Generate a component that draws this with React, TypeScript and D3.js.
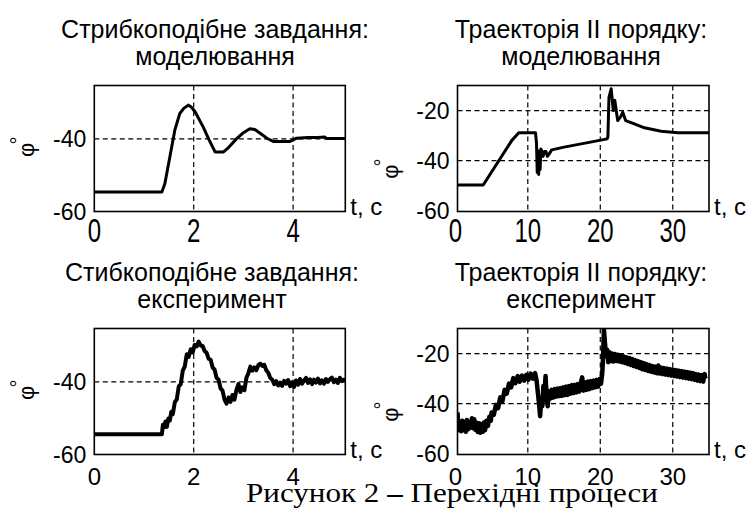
import React from "react";
import * as d3 from "d3";

// t (s), phi (deg)
const stepSim: [number, number][] = [
    [0, -54.6], [1.36, -54.6], [1.42, -52.3], [1.52, -45], [1.62, -37.6], [1.72, -33.0],
    [1.8, -31.6], [1.89, -30.7], [1.95, -31.2], [2.03, -32.6], [2.19, -36.7], [2.3, -40],
    [2.43, -43.6], [2.6, -43.6], [2.7, -42.4], [2.86, -40], [3.0, -38.3], [3.13, -37.2],
    [3.23, -37.4], [3.35, -38.6], [3.48, -39.9], [3.6, -40.7], [3.94, -40.7], [4.07, -39.8],
    [4.3, -39.6], [4.5, -39.6], [4.64, -39.5], [4.67, -39.9], [5.05, -39.9],
];

const trajSim: [number, number][] = [
    [0, -49.7], [3.85, -49.7], [7.8, -31.9], [8.76, -28.9], [11.06, -28.9], [11.2, -33],
    [11.3, -44.7], [11.4, -36], [11.5, -45.5], [11.6, -37], [11.7, -43.5], [11.8, -35.3],
    [11.9, -36], [12.1, -38.3], [12.3, -36.3], [12.5, -36.3], [12.7, -38.3], [12.9, -37.5],
    [13.3, -35.7], [15, -34.6], [17, -33.5], [19, -32.4], [20.95, -31.3], [21.05, -30.5],
    [21.2, -14.7], [21.5, -11.3], [21.8, -20], [22.0, -15.9], [22.4, -24], [22.8, -22.5],
    [23.1, -20.7], [23.5, -24], [24.7, -25.3], [26.1, -26.9], [28.4, -28.3], [30.7, -28.9],
    [35.05, -28.9],
];

const stepExp: [number, number][] = [
    [0, -54.4], [1.36, -54.4], [1.38, -51.8], [1.4, -52.6], [1.43, -50.9], [1.46, -52.4],
    [1.49, -50.1], [1.52, -50.6], [1.55, -48.2], [1.58, -48.9], [1.62, -45.6], [1.66, -44.8],
    [1.7, -41.2], [1.74, -40.6], [1.78, -36.9], [1.82, -35.8], [1.86, -32.4], [1.9, -33.1],
    [1.94, -31.0], [1.98, -31.9], [2.02, -29.8], [2.06, -30.2], [2.1, -28.9], [2.14, -30.0],
    [2.18, -30.1], [2.22, -31.5], [2.26, -32.0], [2.3, -33.6], [2.34, -33.9], [2.38, -36.0],
    [2.42, -36.6], [2.46, -38.9], [2.5, -39.4], [2.54, -41.8], [2.58, -42.4], [2.62, -44.9],
    [2.66, -46.0], [2.7, -44.3], [2.74, -45.5], [2.78, -43.6], [2.82, -44.9], [2.86, -42.2],
    [2.9, -40.6], [2.94, -42.8], [2.98, -41.5], [3.02, -42.3], [3.06, -38.9], [3.1, -37.6],
    [3.14, -35.8], [3.18, -36.9], [3.22, -36.0], [3.26, -36.8], [3.3, -35.4], [3.34, -35.0],
    [3.38, -35.6], [3.42, -35.3], [3.46, -36.8], [3.5, -37.5], [3.54, -38.9], [3.58, -39.4],
    [3.62, -40.6], [3.66, -39.8], [3.7, -41.0], [3.74, -40.2], [3.78, -41.1], [3.82, -39.7],
    [3.86, -40.5], [3.9, -39.5], [3.94, -41.2], [3.98, -40.1], [4.02, -41.4], [4.06, -39.6],
    [4.1, -40.8], [4.14, -39.2], [4.18, -40.5], [4.22, -39.6], [4.26, -38.9], [4.3, -40.3],
    [4.34, -39.3], [4.38, -40.6], [4.42, -39.4], [4.46, -40.2], [4.5, -39.1], [4.54, -40.4],
    [4.58, -39.6], [4.62, -40.5], [4.66, -39.2], [4.7, -40.0], [4.74, -39.3], [4.78, -38.8],
    [4.82, -40.1], [4.86, -39.4], [4.9, -40.3], [4.94, -38.9], [4.98, -39.8], [5.02, -39.4],
    [5.05, -39.8],
];

const trajExp: [number, number][] = [
    [0.3, -43.5], [0.45, -50.5], [0.6, -47.5], [0.8, -51], [0.95, -46.8], [1.1, -50.6], [1.3, -47.2],
    [1.45, -51.2], [1.6, -46.5], [1.8, -50.2], [1.95, -47.5], [2.1, -49.5], [2.3, -45.8], [2.45, -49.8],
    [2.6, -46.2], [2.8, -50.5], [2.95, -47.6], [3.1, -51.3], [3.3, -47.8], [3.45, -51.6], [3.6, -48.2],
    [3.8, -51.2], [3.95, -47.5], [4.1, -50.6], [4.3, -46.8], [4.5, -48.9], [4.7, -45.2], [4.9, -46.8],
    [5.0, -43.5], [5.3, -44.5], [5.6, -40.5], [5.9, -41.8], [6.2, -37.5], [6.5, -39.0], [6.8, -34.5],
    [7.1, -36.0], [7.4, -32], [7.7, -33.5], [8.0, -29.8], [8.3, -31.8], [8.6, -29], [8.9, -31.2],
    [9.2, -28.8], [9.5, -30.8], [9.8, -28.5], [10.1, -30.4], [10.4, -28], [10.7, -30.0], [11.0, -27.8],
    [11.2, -30.5], [11.4, -36], [11.55, -40], [11.7, -45], [11.85, -38], [12.0, -41], [12.15, -33],
    [12.3, -36], [12.45, -29], [12.6, -38], [12.75, -41], [12.9, -35], [13.1, -38], [13.3, -34.5],
    [13.5, -37.6], [13.7, -34.2], [13.9, -37.2], [14.1, -34], [14.3, -37], [14.5, -33.8], [14.7, -36.9],
    [14.9, -33.5], [15.1, -36.6], [15.3, -33.2], [15.5, -36.5], [15.7, -33], [15.9, -36.0],
    [16.1, -32.6], [16.3, -35.8], [16.5, -32.5], [16.7, -35.5], [16.9, -32.2], [17.1, -35.2],
    [17.3, -32.0], [17.5, -29.5], [17.7, -34.8], [17.9, -31.5], [18.1, -34.5], [18.3, -31.2],
    [18.5, -34.2], [18.7, -31.0], [18.9, -33.8], [19.1, -30.8], [19.3, -33.5], [19.5, -30.5],
    [19.7, -33.2], [19.9, -30.2], [20.1, -32.0], [20.25, -28.5], [20.35, -24], [20.5, -10.5],
    [20.65, -16], [20.8, -21], [20.95, -18.5], [21.1, -23.5], [21.25, -19.5], [21.4, -23.0],
    [21.6, -20.0], [21.8, -23.2], [22.0, -20.2], [22.2, -23.0], [22.4, -20.5], [22.6, -23.2],
    [22.8, -20.8], [23.0, -23.5], [23.2, -21.2], [23.4, -23.8], [23.6, -21.5], [23.8, -24.2],
    [24.0, -21.8], [24.2, -24.6], [24.4, -22.2], [24.6, -25.0], [24.8, -22.6], [25.0, -25.4],
    [25.2, -23.0], [25.4, -25.8], [25.6, -23.4], [25.8, -26.3], [26.0, -23.8], [26.2, -26.6],
    [26.4, -24.2], [26.6, -27.0], [26.8, -24.6], [27.0, -27.3], [27.2, -25.0], [27.4, -27.6],
    [27.6, -25.2], [27.8, -27.9], [28.0, -24.8], [28.2, -28.0], [28.4, -25.6], [28.6, -28.2],
    [28.8, -25.8], [29.0, -28.4], [29.2, -26.0], [29.4, -28.6], [29.6, -26.2], [29.8, -28.8],
    [30.0, -26.4], [30.2, -29.0], [30.4, -26.6], [30.6, -29.2], [30.8, -26.8], [31.0, -29.4],
    [31.2, -27.0], [31.4, -29.6], [31.6, -27.2], [31.8, -29.8], [32.0, -27.4], [32.2, -30.0],
    [32.4, -27.6], [32.6, -30.2], [32.8, -27.8], [33.0, -30.5], [33.2, -28.2], [33.4, -30.8],
    [33.6, -28.4], [33.8, -31.0], [34.0, -28.6], [34.2, -31.2], [34.4, -28.2], [34.5, -30.0],
];

const stepXTicks = [0, 2, 4];
const stepYTicks = [-60, -40];
const stepXGrid = [2, 4];
const stepYGrid = [-40];
const trajXTicks = [0, 10, 20, 30];
const trajYTicks = [-60, -40, -20];
const trajXGrid = [10, 20, 30];
const trajYGrid = [-40, -20];

const titleStepSim = ["Стрибкоподібне завдання:", "моделювання"];
const titleTrajSim = ["Траекторія ІІ порядку:", "моделювання"];
const titleStepExp = ["Стибкоподібне завдання:", "експеримент"];
const titleTrajExp = ["Траекторія ІІ порядку:", "експеримент"];
const captionStart = "Рисунок 2 ";
const captionDash = "–";
const captionEnd = " Перехідні процеси";

const FONT = "'Liberation Sans', Arial, sans-serif";

type PanelProps = {
    x0: number;
    y0: number;
    w: number;
    h: number;
    xDomain: [number, number];
    yDomain: [number, number];
    xTicks: number[];
    yTicks: number[];
    xGrid: number[];
    yGrid: number[];
    data: [number, number][];
    title: string[];
    titleX: number;
    stretch: number;
    lineWidth: number;
};

const Panel = (p: PanelProps) => {
    const x = d3.scaleLinear().domain(p.xDomain).range([p.x0, p.x0 + p.w]);
    const y = d3.scaleLinear().domain(p.yDomain).range([p.y0 + p.h, p.y0]);
    const line = d3
        .line<[number, number]>()
        .x((d) => x(d[0]))
        .y((d) => y(d[1]));
    const bottom = p.y0 + p.h;
    const phiY = y(-40) + 10;
    const clipId = `clip${Math.round(p.x0)}_${Math.round(p.y0)}`;

    return (
        <g fontFamily={FONT} fill="#000">
            <text x={p.titleX} y={p.y0 - 48} fontSize={25} textAnchor="middle">
                {p.title[0]}
            </text>
            <text x={p.titleX} y={p.y0 - 21} fontSize={25} textAnchor="middle">
                {p.title[1]}
            </text>

            {/* grid */}
            {p.xGrid.map((v) => (
                <line key={"gx" + v} x1={x(v)} x2={x(v)} y1={p.y0} y2={bottom}
                    stroke="#000" strokeWidth={1.2} strokeDasharray="5,3.5" />
            ))}
            {p.yGrid.map((v) => (
                <line key={"gy" + v} x1={p.x0} x2={p.x0 + p.w} y1={y(v)} y2={y(v)}
                    stroke="#000" strokeWidth={1.2} strokeDasharray="5,3.5" />
            ))}

            <clipPath id={clipId}>
                <rect x={p.x0} y={p.y0} width={p.w} height={p.h} />
            </clipPath>
            <path d={line(p.data) || ""} fill="none" stroke="#000" strokeWidth={p.lineWidth}
                strokeLinejoin="round" clipPath={`url(#${clipId})`} />

            <rect x={p.x0} y={p.y0} width={p.w} height={p.h} fill="none" stroke="#000" strokeWidth={1.6} />

            {/* y ticks */}
            {p.yTicks.map((v) => (
                <text key={"yt" + v} x={p.x0 - 8} y={y(v) + 8} fontSize={23} textAnchor="end">
                    {v}
                </text>
            ))}
            {/* x ticks */}
            {p.xTicks.map((v) => (
                <text key={"xt" + v} transform={`translate(${x(v)},${bottom + 30}) scale(1,${p.stretch})`}
                    fontSize={24} textAnchor="middle">
                    {v}
                </text>
            ))}

            <text x={p.x0 + p.w + 5} y={bottom + 3} fontSize={24}>t, c</text>

            <text transform={`translate(${p.x0 - 60},${phiY + 8}) rotate(-90)`} fontSize={22}>
                φ<tspan fontSize={20} dx={-2} dy={-9}>°</tspan>
            </text>
        </g>
    );
};

const App = () => {
    const leftX = 94.3;
    const rightX = 457.5;
    const topY = 85.5;
    const botY = 328.5;
    const w = 251;
    const h = 126;
    const stepXDomain: [number, number] = [0, 5.05];
    const stepYDomain: [number, number] = [-60, -25.3];
    const trajXDomain: [number, number] = [0.3, 35];
    const trajYDomain: [number, number] = [-60.3, -10];

    return (
        <svg width={752} height={509} style={{ position: "absolute", left: 0, top: 0, background: "#fff" }}>
            <Panel x0={leftX} y0={topY} w={w} h={h} xDomain={stepXDomain} yDomain={stepYDomain}
                xTicks={stepXTicks} yTicks={stepYTicks} xGrid={stepXGrid} yGrid={stepYGrid}
                data={stepSim} title={titleStepSim} titleX={215} stretch={1.35} lineWidth={3} />
            <Panel x0={rightX} y0={topY} w={w + 0.5} h={h} xDomain={trajXDomain} yDomain={trajYDomain}
                xTicks={trajXTicks} yTicks={trajYTicks} xGrid={trajXGrid} yGrid={trajYGrid}
                data={trajSim} title={titleTrajSim} titleX={581} stretch={1.35} lineWidth={3} />
            <Panel x0={leftX} y0={botY} w={w} h={h} xDomain={stepXDomain} yDomain={stepYDomain}
                xTicks={stepXTicks} yTicks={stepYTicks} xGrid={stepXGrid} yGrid={stepYGrid}
                data={stepExp} title={titleStepExp} titleX={212} stretch={1} lineWidth={4} />
            <Panel x0={rightX} y0={botY} w={w + 0.5} h={h} xDomain={trajXDomain} yDomain={trajYDomain}
                xTicks={trajXTicks} yTicks={trajYTicks} xGrid={trajXGrid} yGrid={trajYGrid}
                data={trajExp} title={titleTrajExp} titleX={581} stretch={1} lineWidth={4.5} />

            <text x={246} y={502} fontSize={28} textLength={412} lengthAdjust="spacingAndGlyphs"
                fontFamily="'Liberation Serif', 'Times New Roman', serif">
                {captionStart}
                <tspan fontWeight="bold">{captionDash}</tspan>
                {captionEnd}
            </text>
        </svg>
    );
};

export default App;
